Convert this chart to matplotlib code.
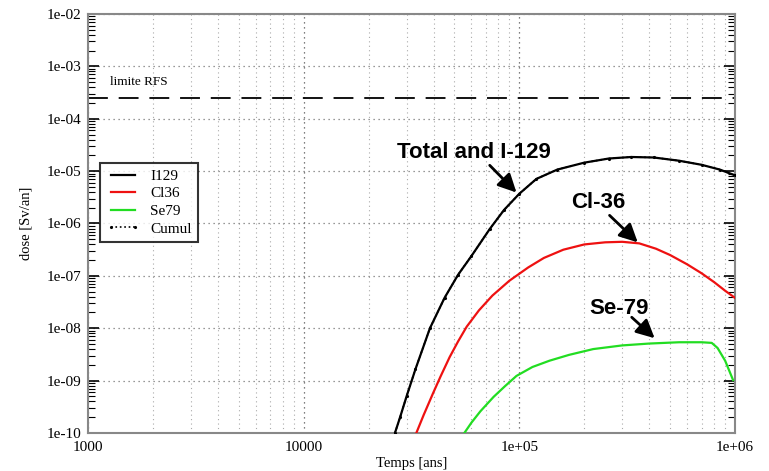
import matplotlib
matplotlib.use("Agg")
import matplotlib.pyplot as plt
from matplotlib.ticker import LogLocator, NullFormatter, FixedLocator, FixedFormatter

# Dose par radionucléide (temps en ans, dose en Sv/an)
t_i129 = [26500, 28000, 30000, 33000, 38500, 45000, 52000, 60000, 73000,
          85000, 100000, 120000, 150000, 200000, 260000, 330000, 420000,
          550000, 700000, 850000, 1000000]
d_i129 = [1.0e-10, 2.0e-10, 5.0e-10, 1.66e-9, 1.0e-8, 3.8e-8, 1.05e-7, 2.4e-7,
          7.9e-7, 1.82e-6, 3.7e-6, 7.1e-6, 1.07e-5, 1.45e-5, 1.74e-5, 1.86e-5,
          1.82e-5, 1.58e-5, 1.32e-5, 1.07e-5, 8.3e-6]

t_cl36 = [33300, 36000, 39700, 43000, 47500, 52000, 57000, 65000, 75000,
          90000, 110000, 130000, 160000, 200000, 250000, 300000, 360000,
          430000, 500000, 600000, 700000, 800000, 900000, 1000000]
d_cl36 = [1.0e-10, 2.2e-10, 5.6e-10, 1.17e-9, 2.8e-9, 5.6e-9, 1.07e-8, 2.2e-8,
          4.2e-8, 8.1e-8, 1.45e-7, 2.2e-7, 3.16e-7, 3.98e-7, 4.37e-7, 4.47e-7,
          4.17e-7, 3.3e-7, 2.5e-7, 1.66e-7, 1.12e-7, 7.6e-8, 5.2e-8, 3.8e-8]

t_se79 = [55600, 60000, 66000, 76000, 86000, 97000, 115000, 138000, 170000,
          220000, 300000, 400000, 550000, 700000, 780000, 830000, 900000, 980000]
d_se79 = [1.0e-10, 1.58e-10, 2.6e-10, 4.9e-10, 7.9e-10, 1.23e-9, 1.82e-9,
          2.4e-9, 3.1e-9, 4.0e-9, 4.7e-9, 5.1e-9, 5.4e-9, 5.4e-9, 5.25e-9,
          4.2e-9, 2.4e-9, 1.02e-9]

# le cumul se confond avec I129
t_cumul = t_i129
d_cumul = d_i129

limite_rfs = 2.5e-4

x_ticks = [1000, 10000, 100000, 1000000]
x_labels = ["1000", "10000", "1e+05", "1e+06"]
y_ticks = [1e-10, 1e-9, 1e-8, 1e-7, 1e-6, 1e-5, 1e-4, 1e-3, 1e-2]
y_labels = ["1e-10", "1e-09", "1e-08", "1e-07", "1e-06", "1e-05",
            "1e-04", "1e-03", "1e-02"]

serif = "Liberation Serif"

fig = plt.figure(figsize=(7.69, 4.71), dpi=100)
ax = fig.add_axes([0.1144, 0.0807, 0.8414, 0.8896])
ax.set_xscale("log")
ax.set_yscale("log")
ax.set_xlim(1000, 1e6)
ax.set_ylim(1e-10, 1e-2)

# grille : verticales a chaque sous-division, horizontales aux decades
ax.xaxis.set_minor_locator(LogLocator(base=10, subs=range(2, 10)))
ax.yaxis.set_minor_locator(LogLocator(base=10, subs=range(2, 10), numticks=20))
ax.xaxis.set_minor_formatter(NullFormatter())
ax.yaxis.set_minor_formatter(NullFormatter())
ax.grid(True, which="major", axis="x", color="#555555", linestyle=(0, (1, 3)), lw=0.9)
ax.grid(True, which="minor", axis="x", color="#aaaaaa", linestyle=(0, (1, 3)), lw=0.8)
ax.grid(True, which="major", axis="y", color="#777777", linestyle=(0, (1, 3)), lw=0.9)
ax.set_axisbelow(True)

ax.xaxis.set_major_locator(FixedLocator(x_ticks))
ax.xaxis.set_major_formatter(FixedFormatter(x_labels))
ax.yaxis.set_major_locator(FixedLocator(y_ticks))
ax.yaxis.set_major_formatter(FixedFormatter(y_labels))
ax.tick_params(axis="x", which="both", length=0, pad=6)
ax.tick_params(axis="y", which="major", direction="in", length=8, width=1.2,
               left=True, right=True, pad=5)
ax.tick_params(axis="y", which="minor", direction="in", length=5, width=0.8,
               left=True, right=True)
for lab in ax.get_xticklabels() + ax.get_yticklabels():
    lab.set_fontfamily(serif)
    lab.set_fontsize(11)

for s in ax.spines.values():
    s.set_color("#888888")
    s.set_linewidth(1.5)

ax.plot(t_i129, d_i129, color="black", lw=1.6, label="I129", zorder=3)
ax.plot(t_cl36, d_cl36, color="#ee1111", lw=1.6, label="Cl36", zorder=3)
ax.plot(t_se79, d_se79, color="#22dd22", lw=1.6, label="Se79", zorder=3)
ax.plot(t_cumul, d_cumul, color="black", lw=1.2, linestyle=":", marker=".",
        markersize=2.5, label="Cumul", zorder=4)

ax.axhline(limite_rfs, color="black", lw=1.3, linestyle=(0, (11, 6)))
ax.text(1265, 5.0e-4, "limite RFS", fontfamily=serif, fontsize=9.5,
        ha="left", va="center")

leg = ax.legend(loc="upper left", bbox_to_anchor=(0.0185, 0.644), numpoints=2,
                prop={"family": serif, "size": 11}, frameon=True, fancybox=False,
                borderaxespad=0, handlelength=2.2, handletextpad=0.7,
                labelspacing=0.25, borderpad=0.4)
leg.get_frame().set_edgecolor("black")
leg.get_frame().set_linewidth(1.5)

# etiquettes des courbes
bold = dict(fontfamily="Liberation Sans", fontweight="bold", fontsize=16,
            ha="center", va="center")
arrow = dict(arrowstyle="-|>,head_length=1.1,head_width=0.55", color="black",
             lw=2, shrinkA=0, shrinkB=0)
ax.text(61500, 2.31e-5, "Total and I-129", **bold)
ax.annotate("", xy=(97000, 3.9e-6), xytext=(72900, 1.29e-5), arrowprops=arrow)
ax.text(232000, 2.57e-6, "Cl-36", **bold)
ax.annotate("", xy=(354000, 4.36e-7), xytext=(262000, 1.43e-6), arrowprops=arrow)
ax.text(289000, 2.4e-8, "Se-79", **bold)
ax.annotate("", xy=(424000, 6.45e-9), xytext=(332000, 1.62e-8), arrowprops=arrow)

ax.set_xlabel("Temps [ans]", fontfamily=serif, fontsize=10.5, labelpad=2)
ax.set_ylabel("dose [Sv/an]", fontfamily=serif, fontsize=10.5, labelpad=10)

fig.savefig("out.png", dpi=100)
